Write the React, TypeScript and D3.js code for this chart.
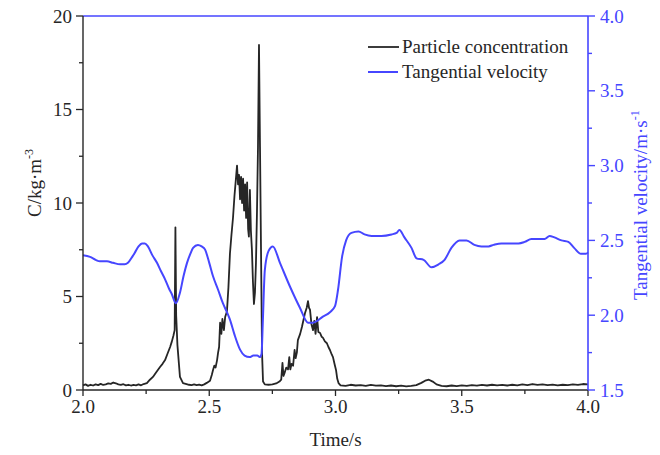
import React from "react";
import * as d3 from "d3";

// Time (s) and particle concentration C (kg·m^-3)
const concTime: number[] = [
  2.000, 2.010, 2.020, 2.030, 2.040, 2.050, 2.060, 2.070, 2.080, 2.090,
  2.100, 2.110, 2.120, 2.130, 2.140, 2.150, 2.160, 2.170, 2.180, 2.190,
  2.200, 2.210, 2.220, 2.230, 2.240, 2.253, 2.265, 2.277, 2.290, 2.305,
  2.315, 2.325, 2.335, 2.345, 2.352, 2.358, 2.363, 2.366, 2.369, 2.374,
  2.384, 2.396, 2.410, 2.420, 2.430, 2.440, 2.450, 2.460, 2.470, 2.480,
  2.490, 2.503, 2.510, 2.515, 2.520, 2.525, 2.531, 2.535, 2.539, 2.543,
  2.548, 2.552, 2.558, 2.563, 2.570, 2.576, 2.582, 2.588, 2.594, 2.600,
  2.605, 2.610, 2.614, 2.618, 2.622, 2.626, 2.630, 2.634, 2.638, 2.642,
  2.646, 2.650, 2.654, 2.657, 2.661, 2.665, 2.669, 2.673, 2.677, 2.681,
  2.685, 2.689, 2.693, 2.697, 2.701, 2.705, 2.709, 2.713, 2.720, 2.735,
  2.750, 2.765, 2.778, 2.785, 2.790, 2.794, 2.798, 2.805, 2.812, 2.817,
  2.821, 2.826, 2.832, 2.838, 2.842, 2.847, 2.851, 2.860, 2.867, 2.874,
  2.879, 2.886, 2.891, 2.895, 2.899, 2.905, 2.911, 2.916, 2.921, 2.927,
  2.932, 2.939, 2.945, 2.950, 2.958, 2.966, 2.972, 2.978, 2.985, 2.990,
  2.996, 3.002, 3.007, 3.012, 3.020, 3.040, 3.060, 3.080, 3.100, 3.120,
  3.140, 3.160, 3.180, 3.200, 3.220, 3.240, 3.260, 3.280, 3.300, 3.320,
  3.340, 3.355, 3.370, 3.385, 3.400, 3.420, 3.440, 3.460, 3.480, 3.500,
  3.520, 3.540, 3.560, 3.580, 3.600, 3.620, 3.640, 3.660, 3.680, 3.700,
  3.720, 3.740, 3.760, 3.780, 3.800, 3.820, 3.840, 3.860, 3.880, 3.900,
  3.920, 3.940, 3.960, 3.980, 4.000,
];
const concValue: number[] = [
  0.25, 0.30, 0.22, 0.28, 0.24, 0.30, 0.26, 0.33, 0.27, 0.30,
  0.35, 0.33, 0.40, 0.36, 0.30, 0.27, 0.31, 0.25, 0.28, 0.24,
  0.27, 0.25, 0.30, 0.25, 0.32, 0.37, 0.55, 0.70, 0.95, 1.23,
  1.40, 1.60, 1.95, 2.30, 2.60, 2.90, 3.20, 8.70, 4.00, 2.40,
  0.70, 0.37, 0.32, 0.28, 0.26, 0.30, 0.26, 0.29, 0.25, 0.30,
  0.38, 0.50, 0.80, 1.07, 1.30, 1.20, 1.60, 2.00, 2.30, 3.60,
  3.00, 3.80, 3.20, 3.90, 4.20, 5.50, 7.30, 8.30, 9.20, 10.40,
  11.20, 12.00, 11.00, 11.50, 10.20, 11.40, 10.00, 11.30, 9.60, 11.00,
  9.20, 11.10, 8.60, 8.20, 10.70, 8.50, 7.50, 5.80, 4.60, 5.20,
  6.80, 9.50, 13.00, 18.45, 13.00, 7.50, 2.00, 0.45, 0.30, 0.28,
  0.30, 0.35, 0.45, 0.55, 1.45, 0.75, 0.90, 1.20, 1.10, 1.76,
  1.10, 1.40, 1.30, 2.14, 1.70, 2.00, 2.67, 3.00, 3.37, 3.80,
  4.10, 4.40, 4.75, 4.40, 4.30, 3.50, 3.20, 3.70, 3.00, 3.90,
  3.10, 3.05, 2.85, 2.80, 2.60, 2.50, 2.30, 2.14, 1.90, 1.76,
  1.40, 1.07, 0.60, 0.37, 0.25, 0.22, 0.28, 0.24, 0.26, 0.22,
  0.27, 0.23, 0.25, 0.21, 0.24, 0.20, 0.23, 0.19, 0.22, 0.26,
  0.38, 0.50, 0.55, 0.45, 0.30, 0.22, 0.20, 0.24, 0.21, 0.25,
  0.22, 0.26, 0.23, 0.27, 0.24, 0.28, 0.25, 0.27, 0.24, 0.28,
  0.25, 0.30, 0.26, 0.32, 0.27, 0.30, 0.26, 0.29, 0.25, 0.28,
  0.26, 0.30, 0.27, 0.32, 0.30,
];

// Time (s) and tangential velocity (m·s^-1)
const velTime: number[] = [
  2.000, 2.028, 2.050, 2.067, 2.080, 2.095, 2.119, 2.147, 2.165, 2.178,
  2.195, 2.206, 2.220, 2.234, 2.245, 2.257, 2.275, 2.293, 2.310, 2.325,
  2.340, 2.352, 2.368, 2.384, 2.398, 2.412, 2.425, 2.436, 2.455, 2.470,
  2.483, 2.500, 2.515, 2.535, 2.554, 2.570, 2.582, 2.600, 2.622, 2.640,
  2.660, 2.675, 2.690, 2.700, 2.707, 2.712, 2.720, 2.735, 2.752, 2.780,
  2.820, 2.859, 2.891, 2.911, 2.950, 2.978, 2.998, 3.010, 3.026, 3.042,
  3.063, 3.091, 3.115, 3.143, 3.182, 3.222, 3.242, 3.253, 3.273, 3.301,
  3.321, 3.349, 3.380, 3.408, 3.432, 3.459, 3.491, 3.519, 3.550, 3.578,
  3.606, 3.626, 3.657, 3.685, 3.725, 3.749, 3.776, 3.828, 3.848, 3.867,
  3.895, 3.922, 3.945, 3.972, 3.992, 4.000,
];
const velValue: number[] = [
  2.40, 2.39, 2.37, 2.36, 2.36, 2.36, 2.35, 2.34, 2.34, 2.35,
  2.39, 2.42, 2.46, 2.48, 2.48, 2.46, 2.40, 2.35, 2.29, 2.24,
  2.18, 2.14, 2.08, 2.15, 2.26, 2.35, 2.41, 2.45, 2.47, 2.46,
  2.44, 2.35, 2.26, 2.17, 2.08, 2.02, 1.97, 1.87, 1.77, 1.73,
  1.72, 1.73, 1.73, 1.72, 1.74, 1.95, 2.30, 2.43, 2.46, 2.35,
  2.19, 2.05, 1.95, 1.95, 1.99, 2.02, 2.06, 2.17, 2.39, 2.50,
  2.55, 2.56, 2.54, 2.53, 2.53, 2.54, 2.55, 2.57, 2.52, 2.45,
  2.38, 2.37, 2.32, 2.34, 2.37, 2.45, 2.50, 2.50, 2.47, 2.46,
  2.46, 2.47, 2.48, 2.48, 2.48, 2.49, 2.51, 2.51, 2.53, 2.52,
  2.50, 2.49, 2.45, 2.41, 2.41, 2.42,
];

const xTicks: number[] = [2.0, 2.5, 3.0, 3.5, 4.0];
const xMinorTicks: number[] = [2.25, 2.75, 3.25, 3.75];
const yLeftTicks: number[] = [0, 5, 10, 15, 20];
const yLeftMinor: number[] = [2.5, 7.5, 12.5, 17.5];
const yRightTicks: number[] = [1.5, 2.0, 2.5, 3.0, 3.5, 4.0];
const yRightMinor: number[] = [1.75, 2.25, 2.75, 3.25, 3.75];

const seriesNames: string[] = ["Particle concentration", "Tangential velocity"];

const W = 660;
const H = 455;
const L = 83;
const R = 588;
const T = 16;
const B = 390;
const BLUE = "#4646ff";
const INK = "#262626";
const FONT = "'Liberation Serif', 'Times New Roman', serif";

export default function App() {
  const x = d3.scaleLinear().domain([2, 4]).range([L, R]);
  const yL = d3.scaleLinear().domain([0, 20]).range([B, T]);
  const yR = d3.scaleLinear().domain([1.5, 4]).range([B, T]);

  const concData = concTime.map((t, i) => [t, concValue[i]] as [number, number]);
  const velData = velTime.map((t, i) => [t, velValue[i]] as [number, number]);

  const concLine = d3
    .line<[number, number]>()
    .x((d) => x(d[0]))
    .y((d) => yL(d[1]));
  const velLine = d3
    .line<[number, number]>()
    .x((d) => x(d[0]))
    .y((d) => yR(d[1]))
    .curve(d3.curveMonotoneX);

  return (
    <svg
      width={W}
      height={H}
      style={{ position: "absolute", left: 0, top: 0, background: "#fff" }}
      fontFamily={FONT}
    >
      {/* data */}
      <path d={concLine(concData) || ""} fill="none" stroke={INK} strokeWidth={1.8} strokeLinejoin="round" />
      <path d={velLine(velData) || ""} fill="none" stroke={BLUE} strokeWidth={2} strokeLinejoin="round" />

      {/* frame */}
      <line x1={L} x2={R} y1={T} y2={T} stroke={BLUE} strokeWidth={1.6} />
      <line x1={L} x2={R} y1={B} y2={B} stroke={INK} strokeWidth={1.4} />
      <line x1={L} x2={L} y1={T} y2={B} stroke={INK} strokeWidth={1.4} />
      <line x1={R} x2={R} y1={T} y2={B} stroke={BLUE} strokeWidth={1.6} />

      {/* bottom axis */}
      {xTicks.map((t) => (
        <g key={"xt" + t}>
          <line x1={x(t)} x2={x(t)} y1={B} y2={B + 6} stroke={INK} strokeWidth={1.3} />
          <text x={x(t)} y={413} textAnchor="middle" fontSize={19} fill={INK}>
            {t.toFixed(1)}
          </text>
        </g>
      ))}
      {xMinorTicks.map((t) => (
        <line key={"xm" + t} x1={x(t)} x2={x(t)} y1={B} y2={B + 4} stroke={INK} strokeWidth={1.3} />
      ))}
      <text x={(L + R) / 2} y={446} textAnchor="middle" fontSize={19} fill={INK}>
        Time/s
      </text>

      {/* left axis */}
      {yLeftTicks.map((v) => (
        <g key={"yl" + v}>
          <line x1={L - 7} x2={L} y1={yL(v)} y2={yL(v)} stroke={INK} strokeWidth={1.3} />
          <text x={72} y={yL(v)} dy="0.35em" textAnchor="end" fontSize={19} fill={INK}>
            {v}
          </text>
        </g>
      ))}
      {yLeftMinor.map((v) => (
        <line key={"ylm" + v} x1={L - 4} x2={L} y1={yL(v)} y2={yL(v)} stroke={INK} strokeWidth={1.3} />
      ))}
      <text transform="translate(41,217) rotate(-90)" fontSize={19} fill={INK}>
        C/kg·m
        <tspan fontSize={12} dy={-8}>-3</tspan>
      </text>

      {/* right axis */}
      {yRightTicks.map((v) => (
        <g key={"yr" + v}>
          <line x1={R} x2={R + 7} y1={yR(v)} y2={yR(v)} stroke={BLUE} strokeWidth={1.4} />
          <text x={600} y={yR(v)} dy="0.35em" textAnchor="start" fontSize={19} fill={BLUE}>
            {v.toFixed(1)}
          </text>
        </g>
      ))}
      {yRightMinor.map((v) => (
        <line key={"yrm" + v} x1={R} x2={R + 4} y1={yR(v)} y2={yR(v)} stroke={BLUE} strokeWidth={1.4} />
      ))}
      <text transform="translate(647,300) rotate(-90)" fontSize={19} fill={BLUE}>
        Tangential velocity/m·s
        <tspan fontSize={12} dy={-8}>-1</tspan>
      </text>

      {/* legend */}
      <line x1={368} x2={399} y1={47} y2={47} stroke={INK} strokeWidth={1.8} />
      <text x={402} y={53} fontSize={19} fill={INK}>
        {seriesNames[0]}
      </text>
      <line x1={368} x2={398} y1={72} y2={72} stroke={BLUE} strokeWidth={2} />
      <text x={402} y={78} fontSize={19} fill={INK}>
        {seriesNames[1]}
      </text>
    </svg>
  );
}
